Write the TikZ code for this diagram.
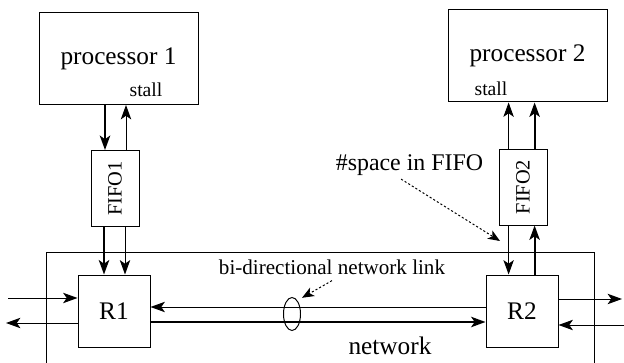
\documentclass[tikz,border=0pt]{standalone}
\usepackage{fontspec}
\setmainfont{Liberation Serif}
\usepackage{graphicx}
\usetikzlibrary{arrows.meta, shapes.geometric, positioning}

\begin{document}
\begin{tikzpicture}[
  box/.style={rectangle, draw, line width=0.7pt, minimum width=3.975cm, minimum height=2.3cm, font=\fontsize{18}{21}\selectfont},
  fifo/.style={rectangle, draw, line width=0.7pt, minimum width=1.2cm, minimum height=1.9cm, inner sep=0pt, font=\fontsize{14.5}{17}\selectfont},
  router/.style={rectangle, draw, line width=0.7pt, minimum width=1.8cm, minimum height=1.8cm, font=\fontsize{18}{21}\selectfont},
  lbl/.style={inner sep=1pt, font=\fontsize{14}{16}\selectfont},
  arrow/.style={-{Stealth[length=3.6mm, width=2.6mm, inset=0.9mm]}, line width=0.7pt},
  bold/.style={arrow, line width=1.5pt},
  hint/.style={-{Stealth[length=3mm, width=2.4mm, inset=0.8mm]}, dash pattern=on 1.5pt off 1.5pt, line width=0.7pt}
]
  \useasboundingbox (0,0) rectangle (15.6,9.075);

  \node[box] (proc1) at (2.9625,7.6125) {processor 1};
  \node[box] (proc2) at (13.1875,7.675) {processor 2};
  \node[lbl] (stall1) at (3.65,6.825) {stall};
  \node[lbl] (stall2) at (12.275,6.8625) {stall};

  \node[fifo] (fifo1) at (2.875,4.3625) {\rotatebox{90}{FIFO1}};
  \node[fifo] (fifo2) at (13.075,4.4) {\rotatebox{90}{FIFO2}};

  \node[router] (r1) at (2.85,1.3) {R1};
  \node[router] (r2) at (13.05,1.3) {R2};

  \draw[line width=0.7pt] (1.15,0) -- (1.15,2.775) -- (14.85,2.775) -- (14.85,0);
  \node[lbl, font=\fontsize{18}{21}\selectfont] (net) at (9.75,0.425) {network};

  \node[draw, ellipse, line width=0.7pt, minimum width=0.425cm, minimum height=0.825cm, inner sep=0pt] (lk) at (7.3,1.225) {};
  \node[lbl, font=\fontsize{15}{18}\selectfont] (linklbl) at (8.3,2.3875) {bi-directional network link};
  \node[lbl, font=\fontsize{17}{20}\selectfont] (spacelbl) at (10.2375,4.95) {\#space in FIFO};

  \draw[bold] ([xshift=-2.5mm]fifo1.north |- proc1.south) -- ([xshift=-2.5mm]fifo1.north);
  \draw[arrow] ([xshift=2.75mm]fifo1.north) -- ([xshift=2.75mm]fifo1.north |- proc1.south);
  \draw[bold] ([xshift=-2.75mm]fifo1.south) -- ([xshift=-2.75mm]fifo1.south |- r1.north);
  \draw[arrow] ([xshift=2.5mm]fifo1.south) -- ([xshift=2.5mm]fifo1.south |- r1.north);

  \draw[arrow] ([xshift=-3.6mm]fifo2.north) -- ([xshift=-3.6mm]fifo2.north |- proc2.south);
  \draw[bold] ([xshift=2.9mm]fifo2.north) -- ([xshift=2.9mm]fifo2.north |- proc2.south);
  \draw[arrow] ([xshift=-3.6mm]fifo2.south) -- ([xshift=-3.6mm]fifo2.south |- r2.north);
  \draw[bold] ([xshift=2.9mm]fifo2.south |- r2.north) -- ([xshift=2.9mm]fifo2.south);

  \coordinate (w1) at (0.2,1.625);
  \coordinate (w2) at (0.15,1.0);
  \coordinate (e1) at (15.55,1.6);
  \coordinate (e2) at (15.6,0.95);
  \draw[arrow] (w1) -- (w1 -| r1.west);
  \draw[arrow] (w2 -| r1.west) -- (w2);
  \draw[arrow] (e1 -| r2.east) -- (e1);
  \draw[arrow] (e2) -- (e2 -| r2.east);

  \draw[arrow] ([yshift=1mm]r2.west) -- ([yshift=1mm]r1.east);
  \draw[bold] ([yshift=-2.75mm]r1.east) -- ([yshift=-2.75mm]r2.west);

  \coordinate (spacetip) at (12.5,3.05);
  \coordinate (lktip) at (7.55,1.63);
  \draw[hint] ([xshift=-2.1mm, yshift=-0.5mm]spacelbl.south) -- (spacetip);
  \draw[hint] ([yshift=-1mm]linklbl.south) -- (lktip);
\end{tikzpicture}
\end{document}
